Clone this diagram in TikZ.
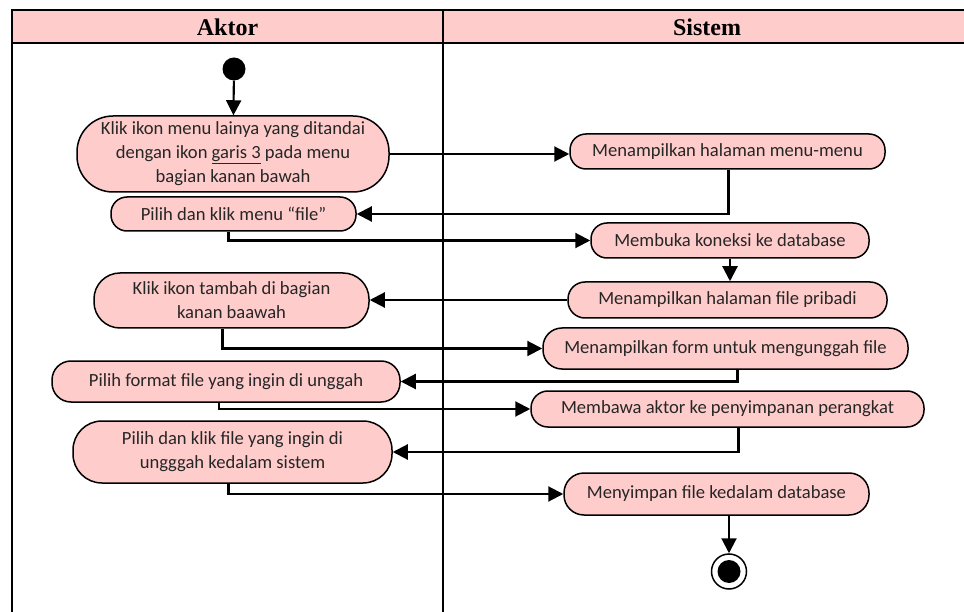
\documentclass[tikz,border=0pt]{standalone}
\usepackage{fontspec}
\setmainfont{Carlito}
\newfontfamily\hdfont{Liberation Serif}
\usetikzlibrary{arrows.meta}
\definecolor{actfill}{HTML}{FFCCCC}
\begin{document}
\begin{tikzpicture}[x=1pt,y=-1pt,
  act/.style n args={3}{draw=black, line width=1.5pt, fill=actfill,
    minimum width=#1pt, minimum height=#2pt, rounded corners=#3pt,
    align=center, inner sep=0pt, text=black!85,
    font=\fontsize{18.6}{24}\selectfont},
  arr/.style={-{Triangle[length=15pt,width=15pt]}, line width=2.1pt},
  lane/.style={line width=2.2pt},
  hdr/.style={font=\hdfont\bfseries\fontsize{24}{26}\selectfont}
]
\useasboundingbox (0,0) rectangle (964,612);

% swimlane frame
\fill[actfill] (12,10) rectangle (975,43);
\draw[lane] (12,10) rectangle (975,630);
\draw[lane] (12,43) -- (975,43);
\draw[lane] (443,10) -- (443,630);
\node[hdr] (hA) at (227.5,27) {Aktor};
\node[hdr] (hS) at (707,27) {Sistem};

% initial and final states
\node[circle, fill=black, minimum size=23pt, inner sep=0pt] (start) at (234,69) {};
\node[circle, draw=black, line width=1.5pt, fill=white, minimum size=35pt, inner sep=0pt] (end) at (729,571.5) {};
\node[circle, fill=black, minimum size=23pt, inner sep=0pt] (endin) at (end.center) {};

% actor activities
\node[act={312}{76}{36}] (n1) at (233,154)
  {Klik ikon menu lainya yang ditandai\\dengan ikon \underline{garis 3} pada menu\\bagian kanan bawah};
\node[act={245}{34}{16}] (n2) at (233.5,214) {Pilih dan klik menu “file”};
\node[act={275}{55}{26}] (n3) at (231.5,300.5) {Klik ikon tambah di bagian\\kanan baawah};
\node[act={348}{41}{19}] (n4) at (226,381.5) {Pilih format file yang ingin di unggah};
\node[act={319}{62}{29}] (n5) at (232.5,452) {Pilih dan klik file yang ingin di\\ungggah kedalam sistem};

% system activities
\node[act={315}{35}{16}] (s1) at (727.5,151.5) {Menampilkan halaman menu-menu};
\node[act={278}{35}{16}] (s2) at (730,240.5) {Membuka koneksi ke database};
\node[act={319}{36}{17}] (s3) at (727.5,300) {Menampilkan halaman file pribadi};
\node[act={365}{41}{19}] (s4) at (725.5,348.5) {Menampilkan form untuk mengunggah file};
\node[act={393}{36}{17}] (s5) at (727.5,409) {Membawa aktor ke penyimpanan perangkat};
\node[act={305}{42}{20}] (s6) at (716.5,494) {Menyimpan file kedalam database};

% control flow
\draw[arr] (start) -- (n1);
\draw[arr] (n1.east) -- (n1.east -| s1.west);
\draw[arr] ([xshift=1pt]s1.south) |- (n2.east);
\draw[arr] ([xshift=-5pt]n2.south) |- (s2.west);
\draw[arr] (s2.south) -- (s2.south |- s3.north);
\draw[arr] (s3.west) -- (s3.west -| n3.east);
\draw[arr] ([xshift=-9pt]n3.south) |- (s4.west);
\draw[arr] ([xshift=12pt]s4.south) |- (n4.east);
\draw[arr] ([xshift=-7pt]n4.south) |- (s5.west);
\draw[arr] ([xshift=11pt]s5.south) |- (n5.east);
\draw[arr] ([xshift=-4pt]n5.south) |- (s6.west);
\draw[arr] (end.north |- s6.south) -- (end.north);
\end{tikzpicture}
\end{document}
